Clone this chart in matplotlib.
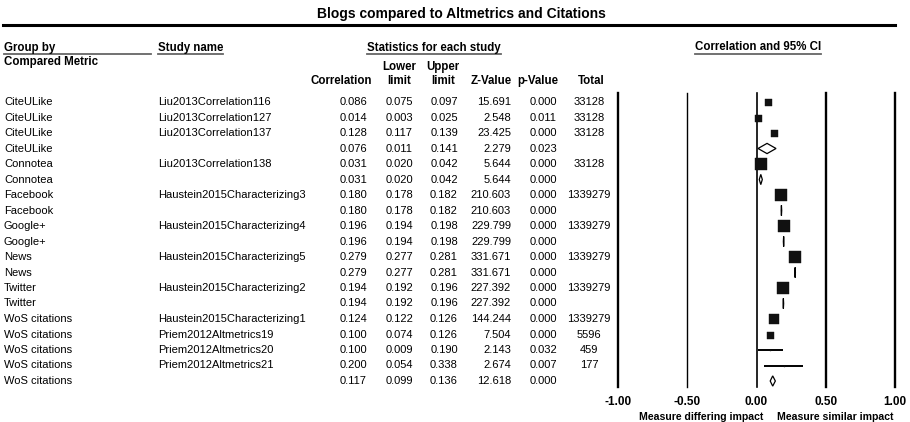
import matplotlib
matplotlib.use('Agg')
import matplotlib.pyplot as plt
import matplotlib.transforms as mtransforms
from matplotlib.patches import Polygon
from matplotlib.lines import Line2D

plt.rcParams['font.family'] = ['Liberation Sans', 'DejaVu Sans']

groups = ['CiteULike', 'CiteULike', 'CiteULike', 'CiteULike', 'Connotea', 'Connotea',
          'Facebook', 'Facebook', 'Google+', 'Google+', 'News', 'News', 'Twitter', 'Twitter',
          'WoS citations', 'WoS citations', 'WoS citations', 'WoS citations', 'WoS citations']
studies = ['Liu2013Correlation116', 'Liu2013Correlation127', 'Liu2013Correlation137', '',
           'Liu2013Correlation138', '', 'Haustein2015Characterizing3', '',
           'Haustein2015Characterizing4', '', 'Haustein2015Characterizing5', '',
           'Haustein2015Characterizing2', '', 'Haustein2015Characterizing1',
           'Priem2012Altmetrics19', 'Priem2012Altmetrics20', 'Priem2012Altmetrics21', '']
corr = [0.086, 0.014, 0.128, 0.076, 0.031, 0.031, 0.180, 0.180, 0.196, 0.196,
        0.279, 0.279, 0.194, 0.194, 0.124, 0.100, 0.100, 0.200, 0.117]
lower = [0.075, 0.003, 0.117, 0.011, 0.020, 0.020, 0.178, 0.178, 0.194, 0.194,
         0.277, 0.277, 0.192, 0.192, 0.122, 0.074, 0.009, 0.054, 0.099]
upper = [0.097, 0.025, 0.139, 0.141, 0.042, 0.042, 0.182, 0.182, 0.198, 0.198,
         0.281, 0.281, 0.196, 0.196, 0.126, 0.126, 0.190, 0.338, 0.136]
zval = [15.691, 2.548, 23.425, 2.279, 5.644, 5.644, 210.603, 210.603, 229.799, 229.799,
        331.671, 331.671, 227.392, 227.392, 144.244, 7.504, 2.143, 2.674, 12.618]
pval = [0.000, 0.011, 0.000, 0.023, 0.000, 0.000, 0.000, 0.000, 0.000, 0.000,
        0.000, 0.000, 0.000, 0.000, 0.000, 0.000, 0.032, 0.007, 0.000]
total = [33128, 33128, 33128, None, 33128, None, 1339279, None, 1339279, None,
         1339279, None, 1339279, None, 1339279, 5596, 459, 177, None]

# square size (px) per study row
box_px = [7, 7, 7, 0, 12, 0, 12, 0, 12, 0, 12, 0, 12, 0, 10, 7, 1, 1, 0]

W, H = 910, 422
fig = plt.figure(figsize=(W / 100, H / 100), dpi=100)

def fx(px):
    return px / W

def fy(py):
    return 1 - py / H

# forest axes: -1 at 618px, 1 at 895px, rows from 93px to 387px
row0, step = 102, 15.5
top_px, bot_px = 93, 387
ax = fig.add_axes([fx(618), fy(bot_px), (895 - 618) / W, (bot_px - top_px) / H])
ax.set_xlim(-1, 1)
ax.set_ylim((bot_px - row0) / step, (top_px - row0) / step)
for s in ax.spines.values():
    s.set_visible(False)
ax.set_yticks([])
ticks = [-1.0, -0.5, 0.0, 0.5, 1.0]
ax.set_xticks(ticks)
ax.set_xticklabels(['%.2f' % t for t in ticks], fontweight='bold', fontsize=8.5)
ax.tick_params(axis='x', length=0, pad=6.5)
for t, lw in zip(ticks, [1.7, 1.0, 1.2, 1.7, 1.7]):
    ax.axvline(t, color='black', lw=lw, clip_on=False)

n = len(corr)
for i in range(n):
    if studies[i]:
        ax.plot([lower[i], upper[i]], [i, i], color='black', lw=1.4, solid_capstyle='butt')
        if box_px[i] > 0:
            ax.plot(corr[i], i, marker='s', color='#111111', ms=box_px[i] * 0.72,
                    mec='#111111', mew=0.3)
    else:
        h = 0.33
        d = Polygon([[lower[i], i], [corr[i], i - h], [upper[i], i], [corr[i], i + h]],
                    closed=True, facecolor='white', edgecolor='black', lw=0.9)
        ax.add_patch(d)

# table text on rows of the forest axes
tr = mtransforms.blended_transform_factory(fig.transFigure, ax.transData)
fs = 8
for i in range(n):
    ax.text(fx(4), i, groups[i], transform=tr, fontsize=fs, va='center', ha='left')
    if studies[i]:
        ax.text(fx(158), i, studies[i], transform=tr, fontsize=fs, va='center', ha='left')
    ax.text(fx(367), i, '%.3f' % corr[i], transform=tr, fontsize=fs, va='center', ha='right')
    ax.text(fx(413), i, '%.3f' % lower[i], transform=tr, fontsize=fs, va='center', ha='right')
    ax.text(fx(458), i, '%.3f' % upper[i], transform=tr, fontsize=fs, va='center', ha='right')
    ax.text(fx(511), i, '%.3f' % zval[i], transform=tr, fontsize=fs, va='center', ha='right')
    ax.text(fx(557), i, '%.3f' % pval[i], transform=tr, fontsize=fs, va='center', ha='right')
    if total[i] is not None:
        ax.text(fx(589), i, str(total[i]), transform=tr, fontsize=fs, va='center', ha='center')

# title and rule
fig.text(fx(461), fy(14), 'Blogs compared to Altmetrics and Citations',
         fontsize=10, fontweight='bold', ha='center', va='center')
fig.add_artist(Line2D([fx(3), fx(895)], [fy(25), fy(25)], color='black', lw=2.2))

# headers
hdr = dict(fontsize=8.3, fontweight='bold', va='center')
underlined = [
    fig.text(fx(4), fy(47.5), 'Group by', ha='left', **hdr),
    fig.text(fx(158), fy(47.5), 'Study name', ha='left', **hdr),
    fig.text(fx(434), fy(47.5), 'Statistics for each study', ha='center', **hdr),
    fig.text(fx(758), fy(47.5), 'Correlation and 95% CI', ha='center', **hdr),
]
fig.text(fx(4), fy(62), 'Compared Metric', ha='left', **hdr)
fig.text(fx(372), fy(81), 'Correlation', ha='right', **hdr)
fig.text(fx(399), fy(67), 'Lower', ha='center', **hdr)
fig.text(fx(399), fy(81), 'limit', ha='center', **hdr)
fig.text(fx(443), fy(67), 'Upper', ha='center', **hdr)
fig.text(fx(443), fy(81), 'limit', ha='center', **hdr)
fig.text(fx(491), fy(81), 'Z-Value', ha='center', **hdr)
fig.text(fx(538), fy(81), 'p-Value', ha='center', **hdr)
fig.text(fx(591), fy(81), 'Total', ha='center', **hdr)

fig.canvas.draw()
r = fig.canvas.get_renderer()
for k, t in enumerate(underlined):
    bb = t.get_window_extent(r)
    x1 = bb.x1 / W if k > 0 else fx(151)
    fig.add_artist(Line2D([bb.x0 / W, x1], [fy(54), fy(54)], color='#666666', lw=1.3))

# bottom labels
fig.text(fx(763), fy(417), 'Measure differing impact', fontsize=7.6, fontweight='bold',
         ha='right', va='center')
fig.text(fx(777), fy(417), 'Measure similar impact', fontsize=7.6, fontweight='bold',
         ha='left', va='center')

fig.savefig('out.png', dpi=100)
